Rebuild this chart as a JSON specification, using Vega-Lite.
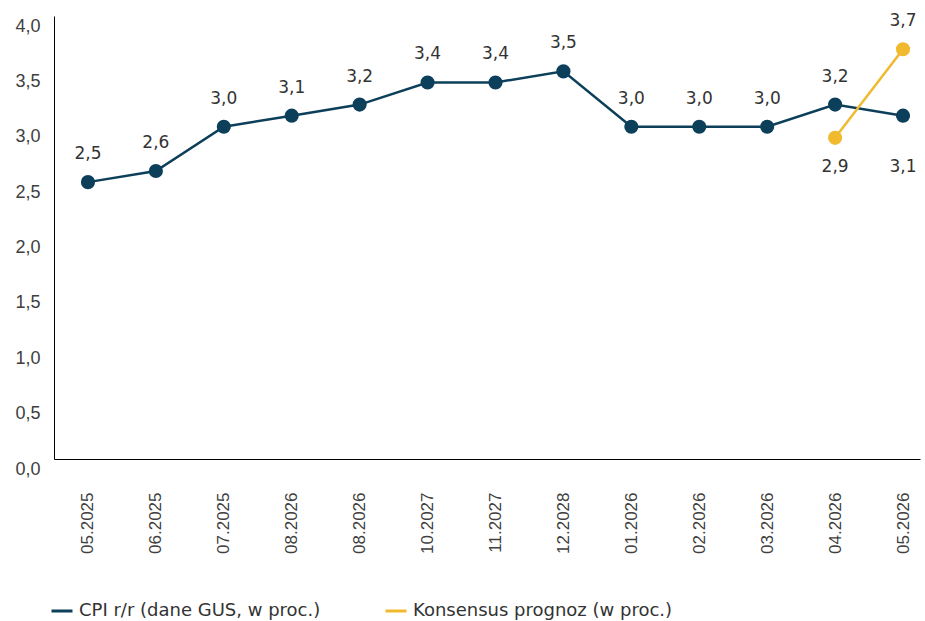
{
  "$schema": "https://vega.github.io/schema/vega-lite/v6.json",
  "width": 866,
  "height": 443,
  "padding": {"left": 14, "top": 12, "right": 5, "bottom": 0},
  "background": "white",
  "config": {
    "view": {"stroke": null},
    "locale": {"number": {"decimal": ",", "thousands": " ", "grouping": [3], "currency": ["", " zł"]}}
  },
  "data": {
    "values": [
      {"i": 0, "okres": "05.2025", "seria": "CPI r/r (dane GUS, w proc.)", "v": 2.5},
      {"i": 1, "okres": "06.2025", "seria": "CPI r/r (dane GUS, w proc.)", "v": 2.6},
      {"i": 2, "okres": "07.2025", "seria": "CPI r/r (dane GUS, w proc.)", "v": 3.0},
      {"i": 3, "okres": "08.2026", "seria": "CPI r/r (dane GUS, w proc.)", "v": 3.1},
      {"i": 4, "okres": "08.2026", "seria": "CPI r/r (dane GUS, w proc.)", "v": 3.2},
      {"i": 5, "okres": "10.2027", "seria": "CPI r/r (dane GUS, w proc.)", "v": 3.4},
      {"i": 6, "okres": "11.2027", "seria": "CPI r/r (dane GUS, w proc.)", "v": 3.4},
      {"i": 7, "okres": "12.2028", "seria": "CPI r/r (dane GUS, w proc.)", "v": 3.5},
      {"i": 8, "okres": "01.2026", "seria": "CPI r/r (dane GUS, w proc.)", "v": 3.0},
      {"i": 9, "okres": "02.2026", "seria": "CPI r/r (dane GUS, w proc.)", "v": 3.0},
      {"i": 10, "okres": "03.2026", "seria": "CPI r/r (dane GUS, w proc.)", "v": 3.0},
      {"i": 11, "okres": "04.2026", "seria": "CPI r/r (dane GUS, w proc.)", "v": 3.2},
      {"i": 12, "okres": "05.2026", "seria": "CPI r/r (dane GUS, w proc.)", "v": 3.1},
      {"i": 11, "okres": "04.2026", "seria": "Konsensus prognoz (w proc.)", "v": 2.9},
      {"i": 12, "okres": "05.2026", "seria": "Konsensus prognoz (w proc.)", "v": 3.7}
    ]
  },
  "encoding": {
    "x": {
      "field": "i",
      "type": "quantitative",
      "scale": {"domain": [-0.5, 12.25], "nice": false, "zero": false},
      "axis": {
        "title": null,
        "values": [0, 1, 2, 3, 4, 5, 6, 7, 8, 9, 10, 11, 12],
        "labelExpr": "['05.2025','06.2025','07.2025','08.2026','08.2026','10.2027','11.2027','12.2028','01.2026','02.2026','03.2026','04.2026','05.2026'][datum.value]",
        "labelAngle": -90,
        "labelAlign": "right",
        "labelBaseline": "middle",
        "labelPadding": 33,
        "labelFont": "Liberation Sans",
        "labelFontSize": 17,
        "labelColor": "#404040",
        "ticks": false,
        "grid": false,
        "domainColor": "#000000",
        "domainWidth": 1,
        "labelOverlap": false
      }
    },
    "y": {
      "field": "v",
      "type": "quantitative",
      "scale": {"domain": [0, 4], "nice": false},
      "axis": {
        "title": null,
        "values": [0, 0.5, 1, 1.5, 2, 2.5, 3, 3.5, 4],
        "format": ".1f",
        "labelOffset": 10,
        "labelPadding": 14,
        "labelFont": "Liberation Sans",
        "labelFontSize": 18,
        "labelColor": "#404040",
        "ticks": false,
        "grid": false,
        "domainColor": "#000000",
        "domainWidth": 1
      }
    },
    "color": {
      "field": "seria",
      "type": "nominal",
      "scale": {
        "domain": ["CPI r/r (dane GUS, w proc.)", "Konsensus prognoz (w proc.)"],
        "range": ["#0c3f59", "#f0b92e"]
      },
      "legend": {
        "title": null,
        "orient": "none",
        "direction": "horizontal",
        "legendX": -4,
        "legendY": 583,
        "symbolType": "stroke",
        "symbolStrokeWidth": 3,
        "symbolSize": 441,
        "labelFont": "DejaVu Sans",
        "labelFontSize": 18,
        "labelColor": "#333333",
        "labelOffset": 5,
        "columnPadding": 58,
        "labelLimit": 400
      }
    }
  },
  "layer": [
    {
      "mark": {"type": "line", "strokeWidth": 2.5},
      "encoding": {"detail": {"field": "seria"}}
    },
    {
      "mark": {"type": "point", "filled": true, "opacity": 1, "size": 200},
      "encoding": {"color": {"field": "seria", "type": "nominal", "legend": null}}
    },
    {
      "transform": [{"filter": "datum.seria == 'CPI r/r (dane GUS, w proc.)' && datum.i < 12 || datum.seria == 'Konsensus prognoz (w proc.)' && datum.i == 12"}],
      "mark": {"type": "text", "dy": -28, "font": "DejaVu Sans", "fontSize": 17, "baseline": "middle"},
      "encoding": {"text": {"field": "v", "type": "quantitative", "format": ".1f"}, "color": {"value": "#333333"}}
    },
    {
      "transform": [{"filter": "datum.seria == 'Konsensus prognoz (w proc.)' && datum.i == 11"}],
      "mark": {"type": "text", "dy": 29, "font": "DejaVu Sans", "fontSize": 17, "baseline": "middle"},
      "encoding": {"text": {"field": "v", "type": "quantitative", "format": ".1f"}, "color": {"value": "#333333"}}
    },
    {
      "transform": [{"filter": "datum.seria == 'CPI r/r (dane GUS, w proc.)' && datum.i == 12"}],
      "mark": {"type": "text", "dy": 51, "font": "DejaVu Sans", "fontSize": 17, "baseline": "middle"},
      "encoding": {"text": {"field": "v", "type": "quantitative", "format": ".1f"}, "color": {"value": "#333333"}}
    }
  ]
}
